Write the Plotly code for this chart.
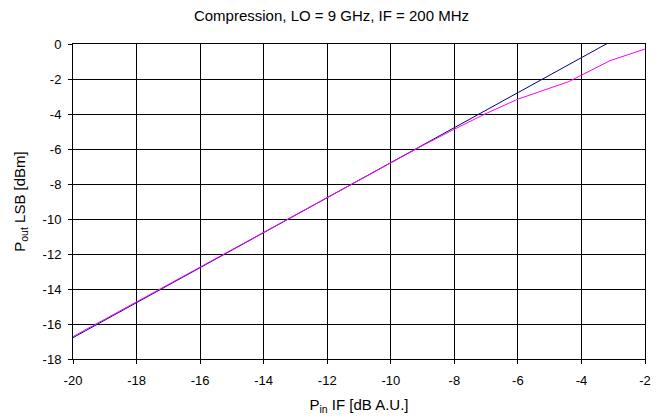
import plotly.graph_objects as go

# Linear reference (blue) and measured (magenta)
x_lin = [-20, -18, -16, -14, -12, -10, -8, -6, -4, -2]
y_lin = [-16.78, -14.78, -12.78, -10.78, -8.78, -6.78, -4.78, -2.78, -0.78, 1.22]

x_meas = [-20, -18, -16, -14, -12, -10, -9, -8, -7, -6, -4.4, -3.1, -2]
y_meas = [-16.72, -14.73, -12.75, -10.76, -8.77, -6.79, -5.80, -4.87, -3.97, -3.15, -2.15, -0.95, -0.29]

x_ticks = list(range(-20, -1, 2))
y_ticks = list(range(-18, 1, 2))
x_ticktext = [str(v) for v in x_ticks]
y_ticktext = [str(v) for v in y_ticks]

fig = go.Figure()
fig.add_trace(go.Scatter(x=x_lin, y=y_lin, mode="lines",
                         line=dict(color="#000080", width=1), showlegend=False))
fig.add_trace(go.Scatter(x=x_meas, y=y_meas, mode="lines",
                         line=dict(color="#FF00FF", width=1), showlegend=False))

fig.update_layout(
    width=663, height=419,
    margin=dict(l=73, r=18, t=44, b=60),
    paper_bgcolor="white", plot_bgcolor="white",
    font=dict(family="Liberation Sans, Arial, sans-serif", size=13, color="black"),
    title=dict(text="Compression, LO = 9 GHz, IF = 200 MHz", x=0.5, xanchor="center",
               y=0.962, yanchor="middle", automargin=False, font=dict(size=15)),
    xaxis=dict(range=[-20, -2], tickvals=x_ticks, ticktext=x_ticktext,
               showgrid=True, gridcolor="black", gridwidth=1,
               showline=True, linecolor="black", linewidth=1, mirror=True,
               ticks="outside", ticklen=4, tickcolor="black", zeroline=False, automargin=False,
               ticklabelstandoff=5,
               title=dict(text="P<sub>in</sub> IF [dB A.U.]", standoff=12, font=dict(size=15))),
    yaxis=dict(range=[-18, 0], tickvals=y_ticks, ticktext=y_ticktext,
               showgrid=True, gridcolor="black", gridwidth=1,
               showline=True, linecolor="black", linewidth=1, mirror=True,
               ticks="outside", ticklen=4, tickcolor="black", zeroline=False, automargin=False,
               ticklabelstandoff=4,
               title=dict(text="P<sub>out</sub> LSB [dBm]", standoff=13, font=dict(size=15))),
)

fig.write_html("out.html", config={"displayModeBar": False},
               post_script="document.body.style.margin='0';")
